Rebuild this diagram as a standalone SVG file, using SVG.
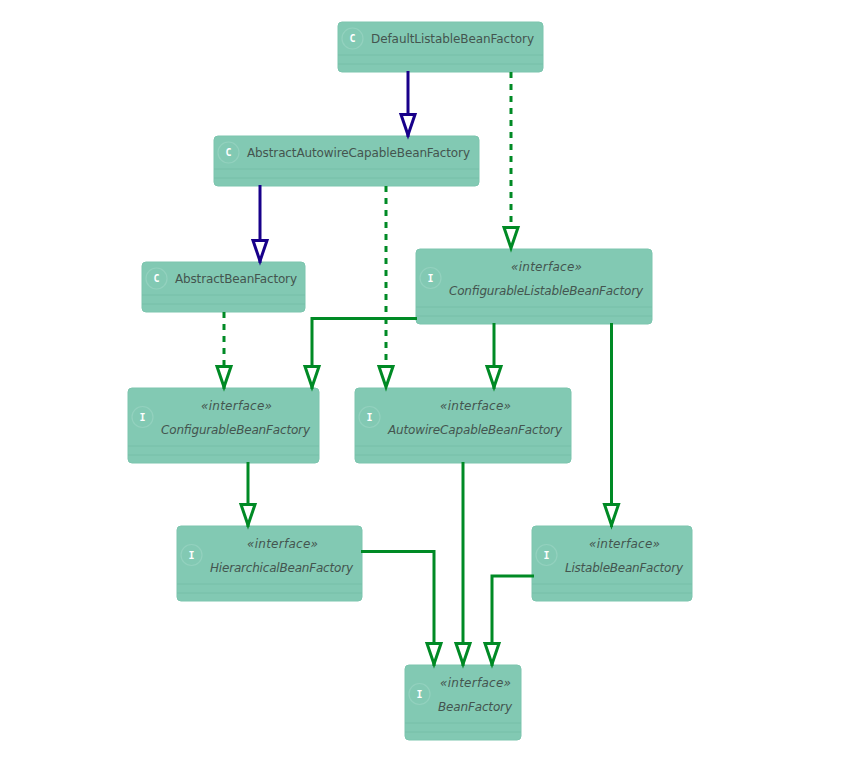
<svg xmlns="http://www.w3.org/2000/svg" width="863" height="778" viewBox="0 0 863 778">
<defs>
<style>
text{font-family:"DejaVu Sans",Verdana,sans-serif;font-size:12px;fill:#44554f}
.i{font-style:italic}
.box{fill:#82c9b3;stroke:#7cc5ae;stroke-width:1}
.sep{stroke:#76bfa8;stroke-width:1;fill:none}
.cir{fill:#82c9b3;stroke:#93d1be;stroke-width:1.2}
.sp{font-family:"DejaVu Sans Mono","Liberation Mono",monospace;font-size:10px;font-weight:bold;fill:#fff;text-anchor:middle}
.g{fill:none;stroke:#008a25;stroke-width:3}
.n{fill:none;stroke:#18008a;stroke-width:3}
.d{stroke-dasharray:6 6}
</style>
<marker id="ag" markerUnits="userSpaceOnUse" markerWidth="32" markerHeight="24" refX="24" refY="12" orient="auto"><path d="M1.500 5L22 12L1.500 19Z" fill="#fff" stroke="#008a25" stroke-width="3"/></marker>
<marker id="an" markerUnits="userSpaceOnUse" markerWidth="32" markerHeight="24" refX="24" refY="12" orient="auto"><path d="M1.500 5L22 12L1.500 19Z" fill="#fff" stroke="#18008a" stroke-width="3"/></marker>
</defs>
<rect width="863" height="778" fill="#fff"/>
<g id="DefaultListableBeanFactory">
<rect class="box" x="338" y="22" width="205" height="50" rx="4"/>
<path class="sep" d="M338 55H543M338 64H543"/>
<circle class="cir" cx="352.500" cy="38.500" r="10.500"/><text class="sp" x="352.500" y="42">C</text>
<text x="371" y="42.500" textLength="163" lengthAdjust="spacing">DefaultListableBeanFactory</text>
</g>
<g id="AbstractAutowireCapableBeanFactory">
<rect class="box" x="214" y="136" width="265" height="50" rx="4"/>
<path class="sep" d="M214 169H479M214 178H479"/>
<circle class="cir" cx="228.500" cy="152.500" r="10.500"/><text class="sp" x="228.500" y="156">C</text>
<text x="247" y="156.500" textLength="223" lengthAdjust="spacing">AbstractAutowireCapableBeanFactory</text>
</g>
<g id="AbstractBeanFactory">
<rect class="box" x="142" y="262" width="163" height="50" rx="4"/>
<path class="sep" d="M142 295H305M142 304H305"/>
<circle class="cir" cx="156.500" cy="278.500" r="10.500"/><text class="sp" x="156.500" y="282">C</text>
<text x="175" y="282.500" textLength="122" lengthAdjust="spacing">AbstractBeanFactory</text>
</g>
<g id="ConfigurableListableBeanFactory">
<rect class="box" x="416" y="249" width="236" height="75" rx="4"/>
<path class="sep" d="M416 307H652M416 316H652"/>
<circle class="cir" cx="430.500" cy="278" r="10.500"/><text class="sp" x="430.500" y="281.500">I</text>
<text class="i" x="511" y="270.500" textLength="71" lengthAdjust="spacing">«interface»</text>
<text class="i" x="449" y="294.500" textLength="194" lengthAdjust="spacing">ConfigurableListableBeanFactory</text>
</g>
<g id="ConfigurableBeanFactory">
<rect class="box" x="128" y="388" width="191" height="75" rx="4"/>
<path class="sep" d="M128 446H319M128 455H319"/>
<circle class="cir" cx="142.500" cy="417" r="10.500"/><text class="sp" x="142.500" y="420.500">I</text>
<text class="i" x="201" y="409.500" textLength="71" lengthAdjust="spacing">«interface»</text>
<text class="i" x="161" y="433.500" textLength="149" lengthAdjust="spacing">ConfigurableBeanFactory</text>
</g>
<g id="AutowireCapableBeanFactory">
<rect class="box" x="355" y="388" width="216" height="75" rx="4"/>
<path class="sep" d="M355 446H571M355 455H571"/>
<circle class="cir" cx="369.500" cy="417" r="10.500"/><text class="sp" x="369.500" y="420.500">I</text>
<text class="i" x="440" y="409.500" textLength="71" lengthAdjust="spacing">«interface»</text>
<text class="i" x="388" y="433.500" textLength="174" lengthAdjust="spacing">AutowireCapableBeanFactory</text>
</g>
<g id="HierarchicalBeanFactory">
<rect class="box" x="177" y="526" width="185" height="75" rx="4"/>
<path class="sep" d="M177 584H362M177 593H362"/>
<circle class="cir" cx="191.500" cy="555" r="10.500"/><text class="sp" x="191.500" y="558.500">I</text>
<text class="i" x="247" y="547.500" textLength="71" lengthAdjust="spacing">«interface»</text>
<text class="i" x="210" y="571.500" textLength="143" lengthAdjust="spacing">HierarchicalBeanFactory</text>
</g>
<g id="ListableBeanFactory">
<rect class="box" x="532" y="526" width="160" height="75" rx="4"/>
<path class="sep" d="M532 584H692M532 593H692"/>
<circle class="cir" cx="546.500" cy="555" r="10.500"/><text class="sp" x="546.500" y="558.500">I</text>
<text class="i" x="589" y="547.500" textLength="71" lengthAdjust="spacing">«interface»</text>
<text class="i" x="565" y="571.500" textLength="118" lengthAdjust="spacing">ListableBeanFactory</text>
</g>
<g id="BeanFactory">
<rect class="box" x="405" y="665" width="116" height="75" rx="4"/>
<path class="sep" d="M405 723H521M405 732H521"/>
<circle class="cir" cx="419.500" cy="694" r="10.500"/><text class="sp" x="419.500" y="697.500">I</text>
<text class="i" x="440" y="686.500" textLength="71" lengthAdjust="spacing">«interface»</text>
<text class="i" x="438" y="710.500" textLength="74" lengthAdjust="spacing">BeanFactory</text>
</g>
<g id="connectors">
<path class="n" marker-end="url(#an)" d="M408 71V137"/>
<path class="n" marker-end="url(#an)" d="M260 185V263"/>
<path class="g d" marker-end="url(#ag)" d="M511 72V250"/>
<path class="g d" marker-end="url(#ag)" d="M386 186V389"/>
<path class="g d" marker-end="url(#ag)" d="M224 312V389"/>
<path class="g" marker-end="url(#ag)" d="M417 318.500H312V389"/>
<path class="g" marker-end="url(#ag)" d="M494 323V389"/>
<path class="g" marker-end="url(#ag)" d="M611.500 323V527"/>
<path class="g" marker-end="url(#ag)" d="M248 462V527"/>
<path class="g" marker-end="url(#ag)" d="M463 462V666"/>
<path class="g" marker-end="url(#ag)" d="M361 551.500H434V666"/>
<path class="g" marker-end="url(#ag)" d="M534 576H492V666"/>
</g>
</svg>
